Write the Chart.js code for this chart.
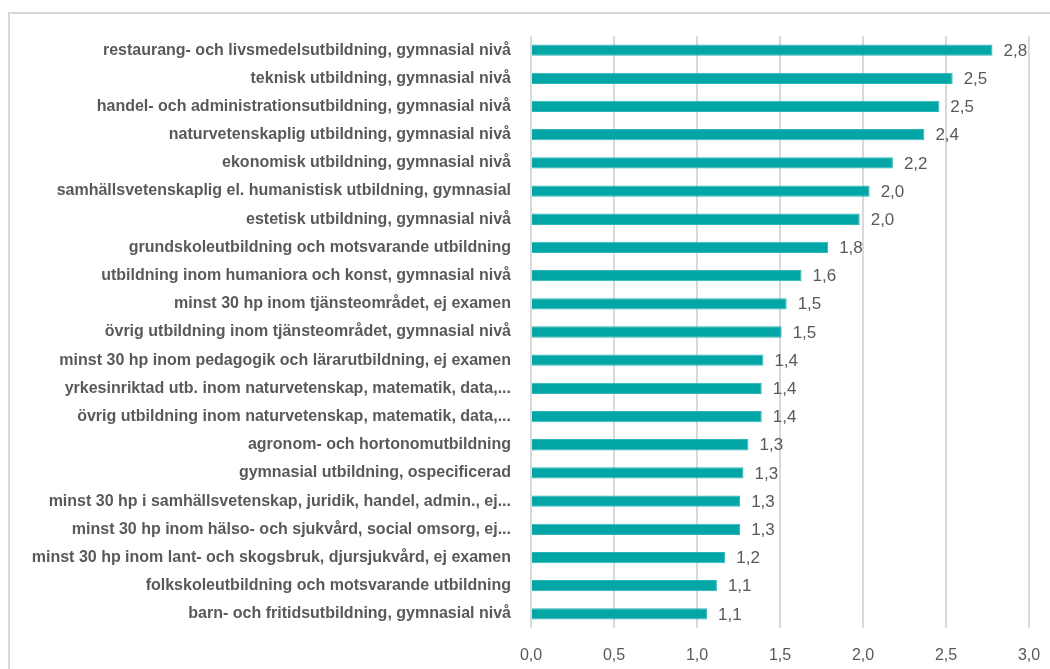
<!DOCTYPE html>
<html>
<head>
<meta charset="utf-8">
<script src="https://cdn.jsdelivr.net/npm/chart.js@4"></script>
<style>
    html, body { margin: 0; padding: 0; background: #fff; overflow: hidden; }
    #frame { position: absolute; left: 8px; top: 12px; width: 1100px; height: 700px; border: 2px solid #d9d9d9; }
    #wrap { position: absolute; left: 0; top: 0; width: 1050px; height: 669px; }
</style>
</head>
<body>
<div id="frame"></div>
<div id="wrap"><canvas id="chart"></canvas></div>
<script>
// categories, top to bottom
const educationLabels = [
    'restaurang- och livsmedelsutbildning, gymnasial nivå',
    'teknisk utbildning, gymnasial nivå',
    'handel- och administrationsutbildning, gymnasial nivå',
    'naturvetenskaplig utbildning, gymnasial nivå',
    'ekonomisk utbildning, gymnasial nivå',
    'samhällsvetenskaplig el. humanistisk utbildning, gymnasial',
    'estetisk utbildning, gymnasial nivå',
    'grundskoleutbildning och motsvarande utbildning',
    'utbildning inom humaniora och konst, gymnasial nivå',
    'minst 30 hp inom tjänsteområdet, ej examen',
    'övrig utbildning inom tjänsteområdet, gymnasial nivå',
    'minst 30 hp inom pedagogik och lärarutbildning, ej examen',
    'yrkesinriktad utb. inom naturvetenskap, matematik, data,...',
    'övrig utbildning inom naturvetenskap, matematik, data,...',
    'agronom- och hortonomutbildning',
    'gymnasial utbildning, ospecificerad',
    'minst 30 hp i samhällsvetenskap, juridik, handel, admin., ej...',
    'minst 30 hp inom hälso- och sjukvård, social omsorg, ej...',
    'minst 30 hp inom lant- och skogsbruk, djursjukvård, ej examen',
    'folkskoleutbildning och motsvarande utbildning',
    'barn- och fritidsutbildning, gymnasial nivå'
];

const educationValues = [
    2.78, 2.54, 2.46, 2.37, 2.18, 2.04, 1.98, 1.79, 1.63, 1.54, 1.51,
    1.40, 1.39, 1.39, 1.31, 1.28, 1.26, 1.26, 1.17, 1.12, 1.06
];

const xTicks = [0, 0.5, 1, 1.5, 2, 2.5, 3];

function commaFormat(v) {
    return Number(v).toFixed(1).replace('.', ',');
}

const barLabelsPlugin = {
    id: 'barLabels',
    afterDatasetsDraw(chart) {
        let ctx = chart.ctx;
        let meta = chart.getDatasetMeta(0);
        ctx.save();
        ctx.font = '17px "Liberation Sans", sans-serif';
        ctx.fillStyle = '#595959';
        ctx.textAlign = 'left';
        ctx.textBaseline = 'middle';
        meta.data.forEach((bar, i) => {
            ctx.fillText(commaFormat(educationValues[i]), bar.x + 11, bar.y + 1);
        });
        ctx.restore();
    }
};

function educationChart(id) {
    const data = {
        labels: educationLabels,
        datasets: [{
                data: educationValues,
                backgroundColor: '#02a6a6',
                borderColor: '#2bb5b5',
                borderWidth: 1,
                barPercentage: 0.4,
                categoryPercentage: 1
            }]
    };
    const config = {
        type: 'bar',
        data: data,
        plugins: [barLabelsPlugin],
        options: {
            indexAxis: 'y',
            responsive: false,
            animation: false,
            layout: {padding: {top: 36, right: 21, bottom: 0, left: 0}},
            plugins: {
                legend: {display: false},
                tooltip: {enabled: false}
            },
            scales: {
                x: {
                    min: 0,
                    max: 3,
                    afterBuildTicks: axis => { axis.ticks = xTicks.map(v => ({value: v})); },
                    afterFit: axis => {
                        axis.height = 41;
                        axis.paddingRight = 0;
                        axis.paddingLeft = 0;
                    },
                    grid: {color: '#d9d9d9', lineWidth: 2, drawTicks: false},
                    border: {display: false},
                    ticks: {
                        color: '#595959',
                        font: {family: '"Liberation Sans", sans-serif', size: 16},
                        padding: 18,
                        callback: v => commaFormat(v)
                    }
                },
                y: {
                    afterFit: axis => { axis.width = 531; },
                    grid: {display: false},
                    border: {display: false},
                    ticks: {
                        autoSkip: false,
                        color: '#595959',
                        padding: 12,
                        font: {family: '"Liberation Sans", sans-serif', size: 16, weight: 'bold'}
                    }
                }
            }
        }
    };
    let canvas = document.getElementById(id);
    canvas.width = 1050;
    canvas.height = 669;
    new Chart(canvas.getContext('2d'), config);
}

educationChart('chart');
</script>
</body>
</html>
